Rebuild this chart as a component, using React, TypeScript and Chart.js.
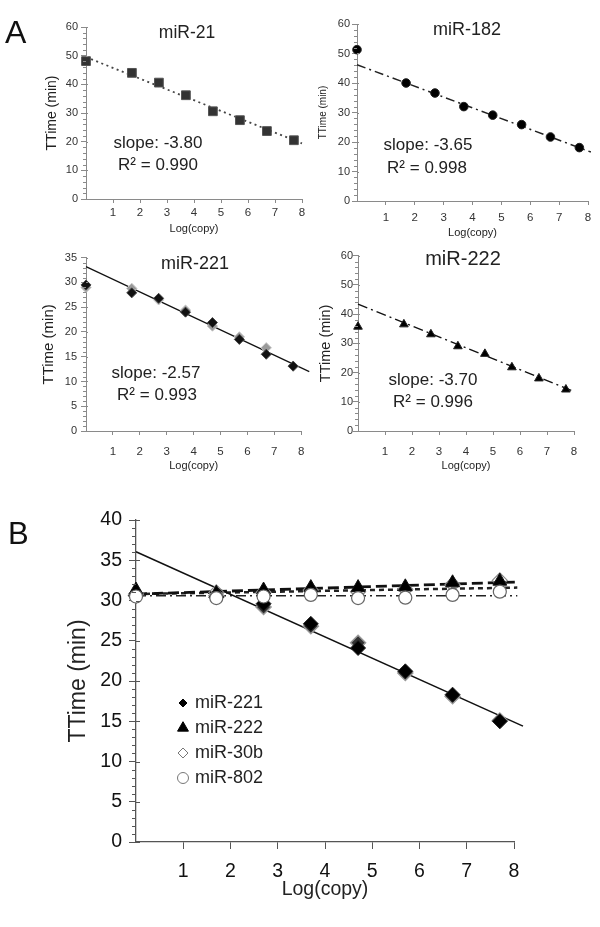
import React, { useEffect, useRef } from "react";
import { Chart, registerables } from "chart.js";

Chart.register(...registerables);

const FONT = '"Liberation Sans", Arial, Helvetica, sans-serif';
const TXT = "#222";

// ---------------- Panel A data ----------------
const logCopy = [0, 1.7, 2.7, 3.7, 4.7, 5.7, 6.7, 7.7];
const xTickValues = [1, 2, 3, 4, 5, 6, 7, 8];
const yTicks60 = [0, 10, 20, 30, 40, 50, 60];
const yTicks35 = [0, 5, 10, 15, 20, 25, 30, 35];
const yTicks40 = [0, 5, 10, 15, 20, 25, 30, 35, 40];

const miR21 = [48.1, 44.0, 40.6, 36.2, 30.6, 27.5, 23.7, 20.5];
const miR21FitX = [0, 8];
const miR21FitY = [49.5, 19.4];

const miR182 = [51.3, 40.0, 36.6, 32.0, 29.1, 25.9, 21.7, 18.1];
const miR182FitX = [0, 8.1];
const miR182FitY = [46.2, 16.6];

const miR221Rep1 = [29.5, 27.9, 26.8, 24.0, 21.9, 18.5, 15.5, 13.1];
const miR221Rep2 = [29.0, 28.8, 26.5, 24.4, 21.2, 19.0, 16.8, 13.1];
const miR221FitX = [0, 8.3];
const miR221FitY = [33.2, 12.0];

const miR222 = [35.7, 36.5, 33.1, 29.0, 26.4, 21.8, 18.0, 14.2];
const miR222FitX = [0, 8];
const miR222FitY = [43.4, 13.5];

const panelATitles = ["miR-21", "miR-182", "miR-221", "miR-222"];
const panelASlopes = ["slope: -3.80", "slope: -3.65", "slope: -2.57", "slope: -3.70"];
const panelAR2 = ["R\u00B2 = 0.990", "R\u00B2 = 0.998", "R\u00B2 = 0.993", "R\u00B2 = 0.996"];

// ---------------- Panel B data ----------------
const bLabels = ["miR-221", "miR-222", "miR-30b", "miR-802"];
const bMiR221 = [30.6, 30.4, 29.6, 27.1, 24.1, 21.2, 18.3, 15.0];
const bMiR221Rep = [30.6, 30.6, 29.2, 26.8, 24.75, 21.0, 18.1, 15.1];
const bMiR222 = [31.3, 30.9, 31.3, 31.6, 31.6, 31.7, 32.2, 32.4];
const bMiR30b = [30.8, 31.0, 31.0, 31.3, 31.1, 31.4, 32.0, 32.5];
const bMiR802 = [30.5, 30.3, 30.5, 30.7, 30.3, 30.35, 30.7, 31.1];
const bFitX = [0, 8.07];
const bFit221X = [0, 8.19];
const bFit221Y = [36.05, 14.4];
const bFit222Y = [30.8, 32.3];
const bFit30bY = [30.8, 31.6];
const bFit802Y = [30.6, 30.6];

const xTitle = "Log(copy)";
const yTitle = "TTime (min)";

// ---------------- helpers ----------------
const pts = (xs: number[], ys: number[]) => xs.map((x, i) => ({ x, y: ys[i] }));

function markers(label: string, xs: number[], ys: number[], style: string, r: number, bg: string, border: string, bw: number, order: number) {
  return {
    label,
    data: pts(xs, ys),
    showLine: false,
    pointStyle: style,
    pointRadius: r,
    pointHoverRadius: r,
    pointBackgroundColor: bg,
    pointBorderColor: border,
    pointBorderWidth: bw,
    backgroundColor: bg,
    borderColor: border,
    order,
    clip: false,
  };
}

function fitLine(label: string, xs: number[], ys: number[], color: string, width: number, dash: number[], order: number) {
  return {
    label,
    data: pts(xs, ys),
    showLine: true,
    pointRadius: 0,
    pointHoverRadius: 0,
    borderColor: color,
    backgroundColor: color,
    borderWidth: width,
    borderDash: dash,
    fill: false,
    tension: 0,
    order,
    clip: false,
  };
}

type Txt = { text: string; x: number; y: number; size: number; align?: CanvasTextAlign; baseline?: CanvasTextBaseline; color?: string };
type LegendItem = { label: string; shape: string; r: number; fill: string; stroke: string; lw: number };

interface PanelCfg {
  canvas: { left: number; top: number; width: number; height: number };
  area: { left: number; top: number; right: number; bottom: number };
  xMax: number;
  yMax: number;
  yStep: number;
  yMinor: number;
  yTicks: number[];
  axisColor: string;
  axisWidth: number;
  tickColor: string;
  xTickSize: number;
  xTickLen: number;
  xTickCenter: number;
  yTickSize: number;
  yTickLen: number;
  yTickRight: number;
  majorInner: number;
  minorLen: number;
  xTitleSize: number;
  xTitleCenter: number;
  yTitleSize: number;
  yTitleCenter: number;
  datasets: any[];
  texts: Txt[];
  legend?: { x: number; textX: number; ys: number[]; size: number; items: LegendItem[] };
}

function drawShape(ctx: CanvasRenderingContext2D, kind: string, x: number, y: number, r: number) {
  ctx.beginPath();
  if (kind === "circle") {
    ctx.arc(x, y, r, 0, Math.PI * 2);
  } else if (kind === "rectRot") {
    ctx.moveTo(x, y - r);
    ctx.lineTo(x + r, y);
    ctx.lineTo(x, y + r);
    ctx.lineTo(x - r, y);
    ctx.closePath();
  } else if (kind === "triangle") {
    ctx.moveTo(x, y - r);
    ctx.lineTo(x + r * 0.866, y + r * 0.5);
    ctx.lineTo(x - r * 0.866, y + r * 0.5);
    ctx.closePath();
  }
}

function makeChart(canvas: HTMLCanvasElement, c: PanelCfg) {
  const cv = c.canvas;
  const a = c.area;
  const yW = a.left - cv.left;
  const xH = cv.top + cv.height - a.bottom;
  const xTickPad = c.xTickCenter - a.bottom - c.xTickLen - (c.xTickSize * 1.2) / 2;
  const xTitlePadB = cv.top + cv.height - c.xTitleCenter - (c.xTitleSize * 1.2) / 2;
  const yTickPad = a.left - c.yTickLen - c.yTickRight;
  const yTitlePadT = c.yTitleCenter - cv.left - (c.yTitleSize * 1.2) / 2;

  const decor = {
    id: "decor",
    afterDraw(chart: any) {
      const ctx: CanvasRenderingContext2D = chart.ctx;
      const ys = chart.scales.y;
      const left = chart.chartArea.left;
      ctx.save();
      ctx.strokeStyle = c.axisColor;
      ctx.lineWidth = 1;
      const n = Math.round(c.yMax / c.yMinor);
      for (let i = 0; i <= n; i++) {
        const v = i * c.yMinor;
        const py = Math.round(ys.getPixelForValue(v)) + 0.5;
        const isMajor = Math.abs(v / c.yStep - Math.round(v / c.yStep)) < 1e-6;
        ctx.beginPath();
        if (isMajor) {
          ctx.moveTo(left, py);
          ctx.lineTo(left + c.majorInner, py);
        } else {
          ctx.moveTo(left - c.minorLen, py);
          ctx.lineTo(left, py);
        }
        ctx.stroke();
      }
      for (const t of c.texts) {
        ctx.font = `${t.size}px ${FONT}`;
        ctx.fillStyle = t.color || TXT;
        ctx.textAlign = t.align || "center";
        ctx.textBaseline = t.baseline || "middle";
        ctx.fillText(t.text, t.x - cv.left, t.y - cv.top);
      }
      if (c.legend) {
        const L = c.legend;
        L.items.forEach((it, i) => {
          const y = L.ys[i] - cv.top;
          drawShape(ctx, it.shape, L.x - cv.left, y, it.r);
          ctx.setLineDash([]);
          if (it.fill !== "none") {
            ctx.fillStyle = it.fill;
            ctx.fill();
          }
          ctx.strokeStyle = it.stroke;
          ctx.lineWidth = it.lw;
          ctx.stroke();
          ctx.font = `${L.size}px ${FONT}`;
          ctx.fillStyle = TXT;
          ctx.textAlign = "left";
          ctx.textBaseline = "middle";
          ctx.fillText(it.label, L.textX - cv.left, y);
        });
      }
      ctx.restore();
    },
  };

  return new Chart(canvas, {
    type: "scatter",
    data: { datasets: c.datasets },
    options: {
      responsive: false,
      animation: false,
      devicePixelRatio: 1,
      events: [],
      layout: {
        padding: {
          left: 0,
          top: a.top - cv.top,
          right: cv.left + cv.width - a.right,
          bottom: 0,
        },
      },
      plugins: {
        legend: { display: false },
        tooltip: { enabled: false },
        title: { display: false },
      },
      scales: {
        x: {
          type: "linear",
          position: "bottom",
          min: 0,
          max: c.xMax,
          afterBuildTicks: (s: any) => {
            s.ticks = xTickValues.map((v) => ({ value: v }));
          },
          afterFit: (s: any) => {
            s.height = xH;
          },
          ticks: {
            autoSkip: false,
            maxRotation: 0,
            padding: xTickPad,
            color: c.tickColor,
            font: { family: FONT, size: c.xTickSize },
            callback: (v: any) => String(v),
          },
          grid: {
            display: true,
            drawOnChartArea: false,
            drawTicks: true,
            tickLength: c.xTickLen,
            color: c.axisColor,
            lineWidth: 1,
          },
          border: { display: true, color: c.axisColor, width: c.axisWidth },
          title: {
            display: true,
            text: xTitle,
            color: TXT,
            font: { family: FONT, size: c.xTitleSize },
            padding: { top: 0, bottom: xTitlePadB },
          },
        },
        y: {
          type: "linear",
          position: "left",
          min: 0,
          max: c.yMax,
          afterBuildTicks: (s: any) => {
            s.ticks = c.yTicks.map((v) => ({ value: v }));
          },
          afterFit: (s: any) => {
            s.width = yW;
          },
          ticks: {
            autoSkip: false,
            padding: yTickPad,
            color: c.tickColor,
            font: { family: FONT, size: c.yTickSize },
            callback: (v: any) => String(v),
          },
          grid: {
            display: true,
            drawOnChartArea: false,
            drawTicks: true,
            tickLength: c.yTickLen,
            color: c.axisColor,
            lineWidth: 1,
          },
          border: { display: true, color: c.axisColor, width: c.axisWidth },
          title: {
            display: true,
            text: yTitle,
            color: TXT,
            font: { family: FONT, size: c.yTitleSize },
            padding: { top: yTitlePadT, bottom: 0 },
          },
        },
      },
    } as any,
    plugins: [decor as any],
  });
}

// ---------------- panel configs ----------------
const aStyle = {
  axisColor: "#8a8a8a",
  axisWidth: 1,
  tickColor: "#333",
  xTickSize: 11.5,
  xTickLen: 4,
  yTickSize: 11,
  yTickLen: 5,
  majorInner: 2,
  minorLen: 3,
  xTitleSize: 11,
  xMax: 8,
};

const panels: PanelCfg[] = [
  {
    ...aStyle,
    canvas: { left: 0, top: 0, width: 312, height: 240 },
    area: { left: 86, top: 27, right: 302, bottom: 199 },
    yMax: 60,
    yStep: 10,
    yMinor: 2,
    yTicks: yTicks60,
    xTickCenter: 213,
    yTickRight: 78,
    xTitleCenter: 229,
    yTitleSize: 14,
    yTitleCenter: 52,
    datasets: [
      markers(panelATitles[0], logCopy, miR21, "rect", 6.2, "#333", "#555", 1, 0),
      fitLine("fit", miR21FitX, miR21FitY, "#444", 1.8, [2, 3.5], 1),
    ],
    texts: [
      { text: "A", x: 5, y: 43, size: 32, align: "left", baseline: "alphabetic", color: "#111" },
      { text: panelATitles[0], x: 187, y: 33, size: 17.5 },
      { text: panelASlopes[0], x: 158, y: 143, size: 17 },
      { text: panelAR2[0], x: 158, y: 165, size: 17 },
    ],
  },
  {
    ...aStyle,
    canvas: { left: 300, top: 0, width: 300, height: 245 },
    area: { left: 357, top: 24, right: 588, bottom: 201 },
    yMax: 60,
    yStep: 10,
    yMinor: 2,
    yTicks: yTicks60,
    xTickCenter: 217.5,
    yTickRight: 350,
    xTitleCenter: 233,
    yTitleSize: 10,
    yTitleCenter: 323,
    datasets: [
      markers(panelATitles[1], logCopy, miR182, "circle", 4.3, "#000", "#222", 1, 0),
      fitLine("fit", miR182FitX, miR182FitY, "#222", 1.5, [9, 4, 2, 4], 1),
    ],
    texts: [
      { text: panelATitles[1], x: 467, y: 30, size: 18 },
      { text: panelASlopes[1], x: 428, y: 145, size: 17 },
      { text: panelAR2[1], x: 427, y: 168, size: 17 },
    ],
  },
  {
    ...aStyle,
    canvas: { left: 0, top: 240, width: 314, height: 235 },
    area: { left: 86, top: 257.7, right: 306, bottom: 431 },
    yMax: 35,
    yStep: 5,
    yMinor: 1,
    yTicks: yTicks35,
    xTickCenter: 451.5,
    yTickRight: 77,
    xTitleCenter: 466,
    yTitleSize: 15,
    yTitleCenter: 49,
    datasets: [
      markers(panelATitles[2], logCopy, miR221Rep1, "rectRot", 5, "#111", "#444", 1, 0),
      markers(panelATitles[2] + " rep", logCopy, miR221Rep2, "rectRot", 5.2, "#9a9a9a", "#c8c8c8", 1, 1),
      fitLine("fit", miR221FitX, miR221FitY, "#111", 1.2, [], 2),
    ],
    texts: [
      { text: panelATitles[2], x: 195, y: 264, size: 18 },
      { text: panelASlopes[2], x: 156, y: 373, size: 17 },
      { text: panelAR2[2], x: 157, y: 395, size: 17 },
    ],
  },
  {
    ...aStyle,
    canvas: { left: 300, top: 240, width: 300, height: 235 },
    area: { left: 358, top: 255.7, right: 574, bottom: 431 },
    yMax: 60,
    yStep: 10,
    yMinor: 2,
    yTicks: yTicks60,
    xTickCenter: 451.5,
    yTickRight: 353,
    xTitleCenter: 466,
    yTitleSize: 14.5,
    yTitleCenter: 326,
    datasets: [
      markers(panelATitles[3], logCopy, miR222, "triangle", 5, "#000", "#222", 1, 0),
      fitLine("fit", miR222FitX, miR222FitY, "#111", 1.4, [10, 4, 2, 4], 1),
    ],
    texts: [
      { text: panelATitles[3], x: 463, y: 259, size: 20 },
      { text: panelASlopes[3], x: 433, y: 380, size: 17 },
      { text: panelAR2[3], x: 433, y: 402, size: 17 },
    ],
  },
  {
    canvas: { left: 0, top: 490, width: 570, height: 437 },
    area: { left: 136, top: 520, right: 514, bottom: 842 },
    xMax: 8,
    yMax: 40,
    yStep: 5,
    yMinor: 1,
    yTicks: yTicks40,
    axisColor: "#555",
    axisWidth: 1.3,
    tickColor: "#111",
    xTickSize: 19.5,
    xTickLen: 7,
    xTickCenter: 872,
    yTickSize: 19.5,
    yTickLen: 7,
    yTickRight: 122,
    majorInner: 4,
    minorLen: 4,
    xTitleSize: 19.5,
    xTitleCenter: 890,
    yTitleSize: 23,
    yTitleCenter: 79,
    datasets: [
      markers(bLabels[3], logCopy, bMiR802, "circle", 6.5, "#fff", "#666", 1.2, 0),
      markers(bLabels[1], logCopy, bMiR222, "triangle", 8, "#000", "#111", 1, 1),
      markers(bLabels[2], logCopy, bMiR30b, "rectRot", 7.5, "rgba(0,0,0,0)", "#888", 1.2, 2),
      markers(bLabels[0], logCopy, bMiR221, "rectRot", 7.5, "#000", "#222", 1, 3),
      markers(bLabels[0] + " rep", logCopy, bMiR221Rep, "rectRot", 7.5, "#333", "#999", 1.5, 4),
      fitLine("fit 221", bFit221X, bFit221Y, "#111", 1.5, [], 5),
      fitLine("fit 222", bFitX, bFit222Y, "#111", 2.8, [11, 5], 6),
      fitLine("fit 30b", bFitX, bFit30bY, "#222", 2.5, [5, 4], 7),
      fitLine("fit 802", bFitX, bFit802Y, "#222", 1.5, [10, 4, 2, 4], 8),
    ],
    texts: [{ text: "B", x: 8, y: 544, size: 31, align: "left", baseline: "alphabetic", color: "#111" }],
    legend: {
      x: 183,
      textX: 195,
      ys: [703, 728, 753, 778],
      size: 18,
      items: [
        { label: bLabels[0], shape: "rectRot", r: 4, fill: "#000", stroke: "#000", lw: 1 },
        { label: bLabels[1], shape: "triangle", r: 6.3, fill: "#000", stroke: "#000", lw: 1 },
        { label: bLabels[2], shape: "rectRot", r: 5, fill: "none", stroke: "#777", lw: 1 },
        { label: bLabels[3], shape: "circle", r: 5.5, fill: "#fff", stroke: "#777", lw: 1 },
      ],
    },
  },
];

function Panel({ cfg }: { cfg: PanelCfg }) {
  const ref = useRef<HTMLCanvasElement | null>(null);
  useEffect(() => {
    if (!ref.current) return;
    const ch = makeChart(ref.current, cfg);
    return () => ch.destroy();
  }, [cfg]);
  const cv = cfg.canvas;
  return (
    <canvas
      ref={ref}
      width={cv.width}
      height={cv.height}
      style={{ position: "absolute", left: cv.left, top: cv.top, width: cv.width, height: cv.height }}
    />
  );
}

export default function App() {
  return (
    <div style={{ position: "absolute", left: 0, top: 0, width: 600, height: 927, background: "#fff", overflow: "hidden" }}>
      {panels.map((p, i) => (
        <Panel key={i} cfg={p} />
      ))}
    </div>
  );
}
